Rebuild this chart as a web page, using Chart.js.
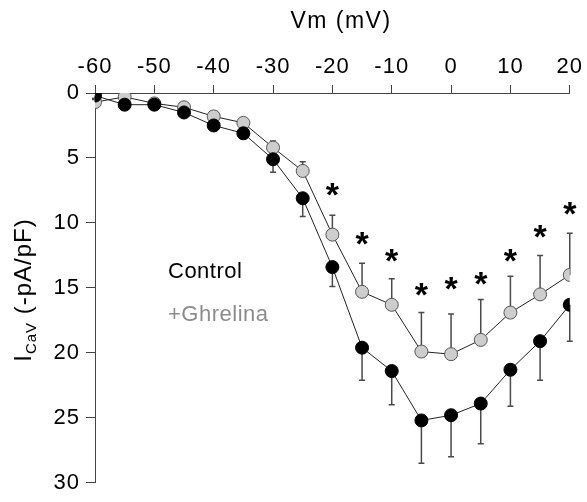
<!DOCTYPE html>
<html>
<head>
<meta charset="utf-8">
<script src="https://cdn.jsdelivr.net/npm/chart.js@4"></script>
<style>
  body { margin: 0; background: #fff; }
  #wrap { width: 587px; height: 502px; }
</style>
</head>
<body>
<div id="wrap"><canvas id="ivChart" width="587" height="502"></canvas></div>
<script>
// I-V curve, Control vs +Ghrelina
const voltages = [-60, -55, -50, -45, -40, -35, -30, -25, -20, -15, -10, -5, 0, 5, 10, 15, 20];
const controlMean = [0.2, 0.9, 0.9, 1.5, 2.5, 3.1, 5.1, 8.1, 13.4, 19.6, 21.4, 25.2, 24.8, 23.9, 21.3, 19.1, 16.3];
const controlSem = [0.2, 0.2, 0.2, 0.3, 0.3, 0.4, 1.0, 1.4, 1.5, 2.5, 2.6, 3.3, 3.2, 3.1, 2.8, 3.0, 2.8];
const ghrelinaMean = [0.7, 0.3, 0.8, 1.1, 1.8, 2.3, 4.2, 6.0, 10.9, 15.3, 16.3, 19.9, 20.1, 19.0, 16.9, 15.5, 14.0];
const ghrelinaSem = [0.2, 0.2, 0.2, 0.2, 0.3, 0.3, 0.5, 0.7, 1.5, 2.2, 2.0, 3.0, 3.1, 3.1, 2.8, 3.0, 3.2];

// significance marks
const starVoltages = [-20, -15, -10, -5, 0, 5, 10, 15, 20];
const starLevels = [7.2, 11.0, 12.3, 14.9, 14.5, 14.1, 12.3, 10.5, 8.7];

const xTicks = [-60, -50, -40, -30, -20, -10, 0, 10, 20];
const yTicks = [0, 5, 10, 15, 20, 25, 30];

const FONT = '"Liberation Sans", Arial, sans-serif';

const toPoints = (xs, ys) => xs.map((x, i) => ({ x: x, y: ys[i] }));

const spacingPlugin = {
    id: 'spacing',
    beforeDraw(chart) {
        chart.ctx.letterSpacing = '1px';
    }
};

const errorBarPlugin = {
    id: 'errorBars',
    beforeDatasetsDraw(chart) {
        const ctx = chart.ctx;
        const xs = chart.scales.x;
        const ys = chart.scales.y;
        ctx.save();
        ctx.strokeStyle = '#4a4a4a';
        ctx.lineWidth = 1.5;
        const bar = (v, mean, err, dir) => {
            const px = xs.getPixelForValue(v);
            const y0 = ys.getPixelForValue(mean);
            const y1 = ys.getPixelForValue(mean + dir * err);
            ctx.beginPath();
            ctx.moveTo(px, y0);
            ctx.lineTo(px, y1);
            ctx.moveTo(px - 3, y1);
            ctx.lineTo(px + 3, y1);
            ctx.stroke();
        };
        voltages.forEach((v, i) => {
            bar(v, ghrelinaMean[i], ghrelinaSem[i], -1);
            bar(v, controlMean[i], controlSem[i], 1);
        });
        ctx.restore();
    }
};

const annotationPlugin = {
    id: 'annotations',
    afterDraw(chart) {
        const ctx = chart.ctx;
        const xs = chart.scales.x;
        const ys = chart.scales.y;
        const area = chart.chartArea;
        ctx.save();
        ctx.letterSpacing = '0px';

        // asterisks
        ctx.fillStyle = '#000';
        ctx.font = 'bold 34px ' + FONT;
        ctx.textAlign = 'center';
        ctx.textBaseline = 'alphabetic';
        starVoltages.forEach((v, i) => {
            ctx.fillText('*', xs.getPixelForValue(v), ys.getPixelForValue(starLevels[i]) + 19);
        });

        ctx.letterSpacing = '1.5px';
        // x title
        ctx.font = '23px ' + FONT;
        ctx.textBaseline = 'middle';
        ctx.fillText('Vm (mV)', area.left + 246, 22);

        // legend
        ctx.letterSpacing = '0.5px';
        ctx.textAlign = 'left';
        ctx.font = '22px ' + FONT;
        ctx.fillStyle = '#000';
        ctx.fillText('Control', area.left + 73, 272);
        ctx.fillStyle = '#8c8c8c';
        ctx.fillText('+Ghrelina', area.left + 73, 315);

        // y title with subscript
        ctx.letterSpacing = '1px';
        ctx.fillStyle = '#000';
        ctx.translate(31, 290);
        ctx.rotate(-Math.PI / 2);
        ctx.textBaseline = 'alphabetic';
        const parts = [
            { t: 'I', f: '24px ' + FONT, dy: 0 },
            { t: 'CaV', f: '15px ' + FONT, dy: 5 },
            { t: ' (-pA/pF)', f: '24px ' + FONT, dy: 0 }
        ];
        let total = 0;
        parts.forEach(p => { ctx.font = p.f; p.w = ctx.measureText(p.t).width; total += p.w; });
        let cx = -total / 2;
        parts.forEach(p => {
            ctx.font = p.f;
            ctx.fillText(p.t, cx, p.dy);
            cx += p.w;
        });
        ctx.restore();
    }
};

const ctx = document.getElementById('ivChart').getContext('2d');

const ivChart = new Chart(ctx, {
    type: 'scatter',
    data: {
        datasets: [
            {
                label: 'Control',
                data: toPoints(voltages, controlMean),
                showLine: true,
                borderColor: '#222',
                borderWidth: 1,
                pointRadius: 6.5,
                pointBackgroundColor: '#000',
                pointBorderColor: '#000',
                pointBorderWidth: 1
            },
            {
                label: '+Ghrelina',
                data: toPoints(voltages, ghrelinaMean),
                showLine: true,
                borderColor: '#222',
                borderWidth: 1,
                pointRadius: 6.5,
                pointBackgroundColor: '#cdcdcd',
                pointBorderColor: '#555',
                pointBorderWidth: 1
            }
        ]
    },
    options: {
        responsive: false,
        animation: false,
        layout: { padding: { top: 0, left: 0, right: 17, bottom: 12 } },
        plugins: {
            legend: { display: false },
            tooltip: { enabled: false }
        },
        scales: {
            x: {
                type: 'linear',
                position: 'top',
                min: -60,
                max: 20,
                afterBuildTicks: scale => { scale.ticks = xTicks.map(v => ({ value: v })); },
                afterFit: scale => { scale.height = 93; },
                ticks: {
                    color: '#000',
                    font: { family: FONT, size: 22 },
                    padding: 5,
                    maxRotation: 0
                },
                grid: { drawOnChartArea: false, drawTicks: true, tickLength: 8, color: '#444', lineWidth: 1 },
                border: { display: true, color: '#444', width: 1 }
            },
            y: {
                type: 'linear',
                reverse: true,
                min: 0,
                max: 30,
                afterBuildTicks: scale => { scale.ticks = yTicks.map(v => ({ value: v })); },
                afterFit: scale => { scale.width = 95; },
                ticks: {
                    color: '#000',
                    font: { family: FONT, size: 22 },
                    padding: 6
                },
                grid: { drawOnChartArea: false, drawTicks: true, tickLength: 9, color: '#444', lineWidth: 1 },
                border: { display: true, color: '#444', width: 1 }
            }
        }
    },
    plugins: [spacingPlugin, errorBarPlugin, annotationPlugin]
});
</script>
</body>
</html>
